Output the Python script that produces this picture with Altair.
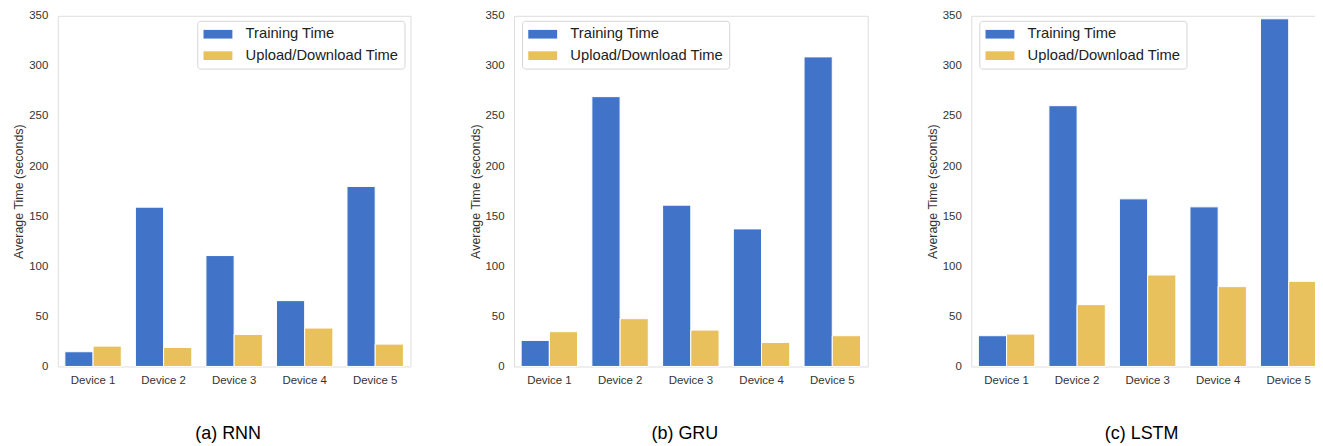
import altair as alt
import pandas as pd

devices = ["Device 1", "Device 2", "Device 3", "Device 4", "Device 5"]
metrics = ["Training Time", "Upload/Download Time"]
colors = ["#4174C9", "#E8C05C"]

rnn_training = [14.7, 159, 110.7, 65.7, 179.7]
rnn_upload = [20.3, 19, 32, 38.3, 22.3]
gru_training = [26, 269.3, 161, 137.3, 309]
gru_upload = [34.7, 47.7, 36.3, 24, 30.7]
lstm_training = [30.7, 260.3, 167.3, 159.3, 347]
lstm_upload = [32.3, 61.7, 91.3, 79.7, 85]

captions = ["(a) RNN", "(b) GRU", "(c) LSTM"]
legend_x = [140, 8, 8]

FONT = "Liberation Sans"


def make_df(training, upload):
    rows = []
    for d, t, u in zip(devices, training, upload):
        rows.append({"device": d, "metric": metrics[0], "value": t})
        rows.append({"device": d, "metric": metrics[1], "value": u})
    return pd.DataFrame(rows)


def panel(df, caption, lx, width):
    return (
        alt.Chart(df)
        .mark_bar(stroke="white", strokeWidth=1)
        .encode(
            x=alt.X(
                "device:N",
                sort=devices,
                scale=alt.Scale(paddingInner=0.2, paddingOuter=0.1),
                axis=alt.Axis(title=None, labelAngle=0, ticks=False, domain=False,
                              labelPadding=8, labelFontSize=11.5, labelFont=FONT,
                              labelColor="#333333", grid=False),
            ),
            xOffset=alt.XOffset("metric:N", sort=metrics,
                                scale=alt.Scale(paddingInner=0, paddingOuter=0)),
            y=alt.Y(
                "value:Q",
                scale=alt.Scale(domain=[0, 350], nice=False),
                axis=alt.Axis(title="Average Time (seconds)", values=list(range(0, 351, 50)),
                              ticks=False, domain=False, grid=False, labelPadding=10,
                              labelFontSize=11.5, labelFont=FONT, labelColor="#333333",
                              titleFont=FONT, titleFontSize=12.5, titleFontWeight="normal",
                              titleColor="#333333", titlePadding=3),
            ),
            color=alt.Color(
                "metric:N",
                sort=metrics,
                scale=alt.Scale(domain=metrics, range=colors),
                legend=alt.Legend(
                    title=None, orient="none", legendX=lx, legendY=5,
                    symbolType="M-1,-0.6L3,-0.6L3,0.6L-1,0.6Z", symbolSize=210,
                    symbolStrokeWidth=0, symbolOpacity=1,
                    labelFont=FONT, labelFontSize=14.8, labelColor="#222222",
                    labelOffset=27.5, rowPadding=5.5, padding=6,
                    fillColor="white", strokeColor="#d5d5d5", cornerRadius=3,
                ),
            ),
        )
        .properties(
            width=width, height=352,
            title=alt.TitleParams(caption, orient="bottom", anchor="middle", frame="group",
                                  offset=39, dx=-6, font=FONT, fontSize=18,
                                  fontWeight="normal", color="#000000"),
        )
    )


dfs = [make_df(rnn_training, rnn_upload), make_df(gru_training, gru_upload),
       make_df(lstm_training, lstm_upload)]
widths = [354, 355, 354]

chart = (
    alt.hconcat(*[panel(d, c, lx, w) for d, c, lx, w in zip(dfs, captions, legend_x, widths)],
                spacing=57)
    .resolve_legend(color="independent")
    .resolve_scale(color="independent")
    .properties(padding={"left": 4, "top": 0, "right": -10, "bottom": 0})
    .configure_view(stroke="#cfcfcf", strokeWidth=1.25)
    .configure(background="white")
)

chart.save("out.html", embed_options={"renderer": "svg", "actions": False})
